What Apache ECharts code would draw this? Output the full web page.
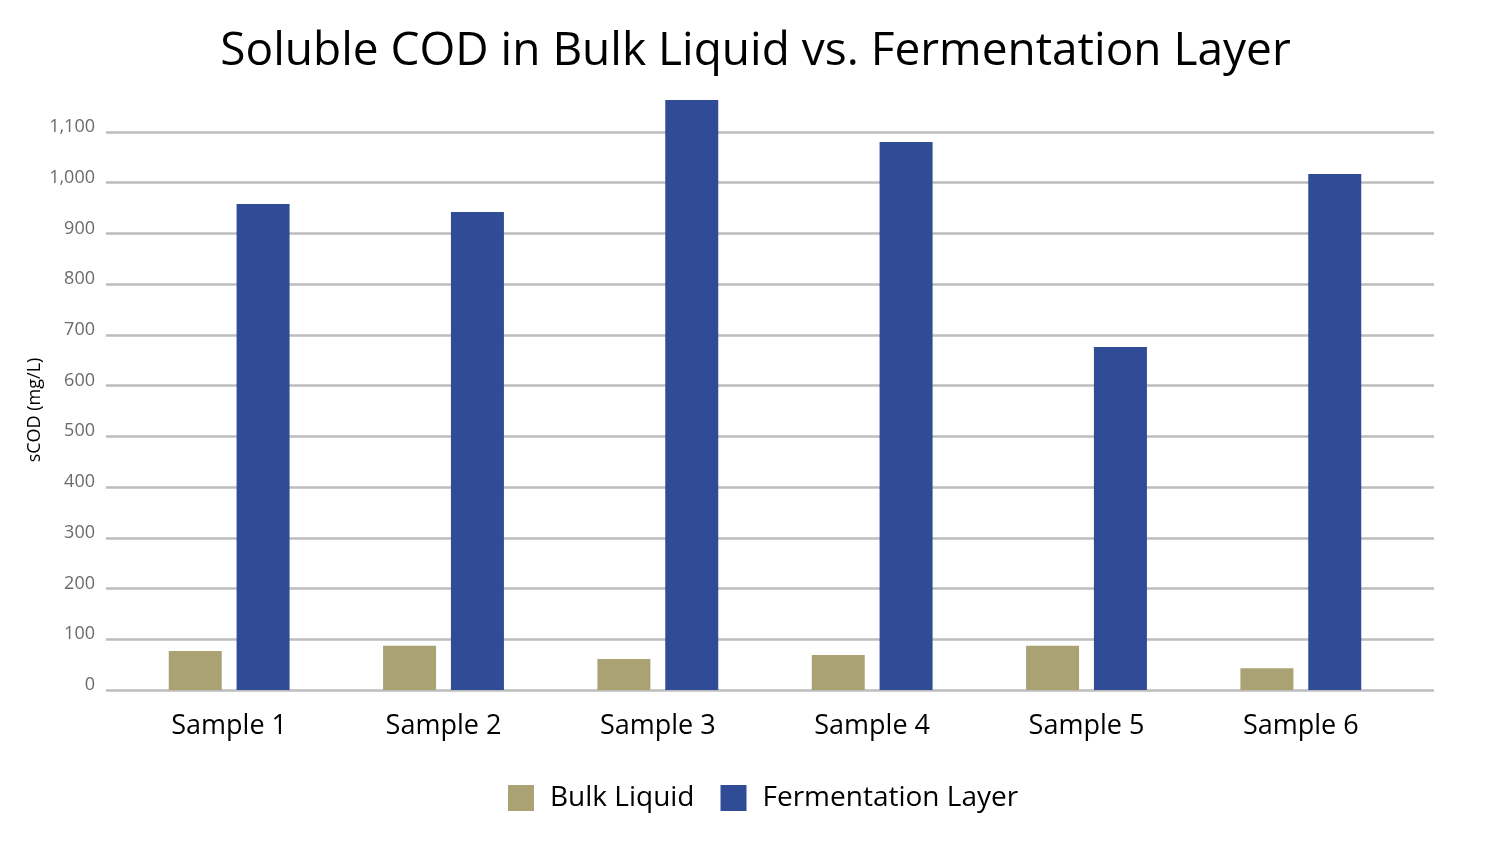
<!DOCTYPE html>
<html>
<head>
<meta charset="utf-8">
<script src="https://cdn.jsdelivr.net/npm/echarts@6/dist/echarts.min.js"></script>
<style>
html,body{margin:0;padding:0;background:#fff;}
#chart{width:1511px;height:844px;}
</style>
</head>
<body>
<div id="chart"></div>
<script>
const categories = ["Sample 1", "Sample 2", "Sample 3", "Sample 4", "Sample 5", "Sample 6"];
const bulkLiquid = [77, 87, 61, 69, 87, 43];
const fermentationLayer = [958, 942, 1163, 1080, 676, 1017];
const yMin = 0;
const yMax = 1163;
const yInterval = 100;

const FONT = "Open Sans";
const chart = echarts.init(document.getElementById('chart'));
const fmt = v => v.toLocaleString('en-US');

chart.setOption({
  animation: false,
  textStyle: { fontFamily: FONT },
  title: {
    text: "Soluble COD in Bulk Liquid vs. Fermentation Layer",
    left: 'center',
    top: 24,
    textStyle: { fontFamily: FONT, fontSize: 46, fontWeight: 'normal', color: '#000' }
  },
  legend: {
    bottom: 27,
    left: 503,
    itemWidth: 26,
    itemHeight: 26,
    itemGap: 26,
    icon: 'rect',
    textStyle: { fontFamily: FONT, fontSize: 28, color: '#000', padding: [0, 0, 0, 11] },
    data: ["Bulk Liquid", "Fermentation Layer"]
  },
  grid: [
    { left: 106, right: 77, top: 100, bottom: 154 },
    { left: 122, right: 103, top: 100, bottom: 154 }
  ],
  xAxis: [
    { type: 'category', gridIndex: 0, data: categories, show: false },
    {
      type: 'category', gridIndex: 1, data: categories,
      axisLine: { show: false }, axisTick: { show: false },
      axisLabel: { fontFamily: FONT, fontSize: 27, color: '#000', margin: 23 }
    }
  ],
  yAxis: [
    {
      type: 'value', gridIndex: 0, min: yMin, max: yMax, interval: yInterval,
      name: 'sCOD (mg/L)', nameLocation: 'middle', nameGap: 62, nameRotate: 90,
      nameMoveOverlap: false,
      nameTextStyle: { fontFamily: FONT, fontSize: 18, color: '#000', padding: [0, 30, 0, 0] },
      axisLine: { show: false }, axisTick: { show: false },
      axisLabel: { fontFamily: FONT, fontSize: 18, color: '#6b6b6b', margin: 11, showMaxLabel: false,
        verticalAlign: 'bottom', lineHeight: 10,
        formatter: v => (v % yInterval === 0 ? fmt(v) : '') },
      splitLine: { show: true, showMaxLine: false, lineStyle: { color: '#BDBDBD', width: 2.5 } }
    },
    {
      type: 'value', gridIndex: 1, min: yMin, max: yMax, interval: yInterval,
      show: false, splitLine: { show: false }
    }
  ],
  series: [
    {
      name: "Bulk Liquid", type: 'bar', xAxisIndex: 1, yAxisIndex: 1,
      data: bulkLiquid, barWidth: 53, barGap: '28%',
      itemStyle: { color: '#ABA273' }
    },
    {
      name: "Fermentation Layer", type: 'bar', xAxisIndex: 1, yAxisIndex: 1,
      data: fermentationLayer, barWidth: 53, barGap: '28%',
      itemStyle: { color: '#314C97' }
    }
  ]
});
</script>
</body>
</html>
